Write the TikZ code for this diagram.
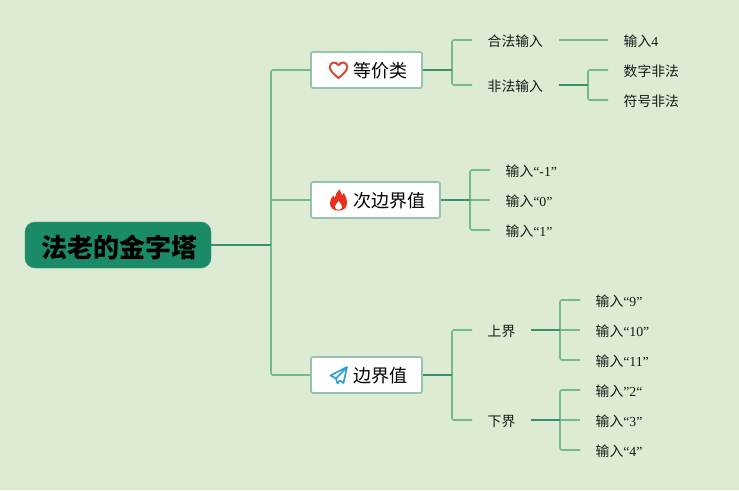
\documentclass[tikz,border=0pt]{standalone}
\usepackage{fontspec}
\setmainfont{Liberation Serif}
\newfontfamily\cjk{Noto Sans CJK SC}
\definecolor{bgc}{RGB}{220,235,210}
\definecolor{rootc}{RGB}{27,138,104}
\definecolor{darkl}{RGB}{55,145,110}
\definecolor{lightl}{RGB}{115,185,145}
\definecolor{boxl}{RGB}{150,195,175}
\definecolor{heartc}{RGB}{214,72,58}
\definecolor{flamec}{RGB}{232,48,28}
\definecolor{planec}{RGB}{48,160,215}
\tikzset{
 rootbox/.style={draw=rootc!90!white,fill=rootc,rounded corners=10pt,minimum width=186pt,minimum height=46pt,inner sep=0pt,text height=27pt,text depth=2pt,font=\cjk\bfseries\fontsize{26}{26}\selectfont},
 branchbox/.style={draw=boxl,line width=1.7pt,fill=white,rounded corners=2pt,minimum height=36pt,inner sep=0pt},
 btext/.style={font=\cjk\fontsize{18}{20}\selectfont,inner sep=0pt,anchor=west},
 leaf/.style={font=\fontsize{13.8}{16}\selectfont,inner ysep=0pt,inner xsep=15.5pt,text height=13pt,text depth=1pt,anchor=west,text=black!90},
 dk/.style={draw=darkl,line width=1.6pt},
 lt/.style={draw=lightl,line width=1.6pt,rounded corners=2pt},
}
\newcommand{\zh}[1]{{\cjk #1}}
\begin{document}
\begin{tikzpicture}[x=1pt,y=-1pt]
\useasboundingbox[fill=bgc] (0,0) rectangle (739,490);
% nodes
\node[rootbox] (root) at (118,245) {\hspace*{2pt}法老的金字塔};
\node[branchbox,minimum width=111pt] (b1) at (366.5,70) {};
\node[branchbox,minimum width=129pt] (b2) at (375.5,200) {};
\node[branchbox,minimum width=111pt] (b3) at (366.5,375) {};
\node[btext] (t1) at (353,71) {等价类};
\node[btext] (t2) at (353,201) {次边界值};
\node[btext] (t3) at (353,376) {边界值};
\node[leaf] (a1) at (472,40) {\zh{合法输入}};
\node[leaf] (a2) at (472,85) {\zh{非法输入}};
\node[leaf] (a11) at (608,40) {\zh{输入}4};
\node[leaf] (a21) at (608,70) {\zh{数字非法}};
\node[leaf] (a22) at (608,100) {\zh{符号非法}};
\node[leaf] (c1) at (490,170) {\zh{输入}“-1”};
\node[leaf] (c2) at (490,200) {\zh{输入}“0”};
\node[leaf] (c3) at (490,230) {\zh{输入}“1”};
\node[leaf] (d1) at (472,330) {\zh{上界}};
\node[leaf] (d2) at (472,420) {\zh{下界}};
\node[leaf] (d11) at (580,300) {\zh{输入}“9”};
\node[leaf] (d12) at (580,330) {\zh{输入}“10”};
\node[leaf] (d13) at (580,360) {\zh{输入}“11”};
\node[leaf] (d21) at (580,390) {\zh{输入}”2“};
\node[leaf] (d22) at (580,420) {\zh{输入}“3”};
\node[leaf] (d23) at (580,450) {\zh{输入}“4”};
% junctions
\coordinate (jr) at (271,245);
\coordinate (j1) at (452,70);
\coordinate (j2) at (470,200);
\coordinate (j3) at (452,375);
\coordinate (ja) at (588,85);
\coordinate (jd1) at (560,330);
\coordinate (jd2) at (560,420);
% light connectors
\draw[lt] (b1.west) -| (jr) |- (b3.west);
\draw[lt] (jr |- b2.west) -- (b2.west);
\draw[lt] (a1.west) -| (j1) |- (a2.west);
\draw[lt] (a1.east) -- (a11.west);
\draw[lt] (a21.west) -| (ja) |- (a22.west);
\draw[lt] (c1.west) -| (j2) |- (c3.west);
\draw[lt] (j2) -- (c2.west);
\draw[lt] (d1.west) -| (j3) |- (d2.west);
\draw[lt] (d11.west) -| (jd1) |- (d13.west);
\draw[lt] (jd1) -- (d12.west);
\draw[lt] (d21.west) -| (jd2) |- (d23.west);
\draw[lt] (jd2) -- (d22.west);
% dark stubs
\draw[dk] (root.east) -- (jr);
\draw[dk] (b1.east) -- (j1);
\draw[dk] (b2.east) -- (j2);
\draw[dk] (b3.east) -- (j3);
\draw[dk] (a2.east) -- (ja);
\draw[dk] (d1.east) -- (jd1);
\draw[dk] (d2.east) -- (jd2);
% heart
\draw[draw=heartc,line width=2pt,line join=round]
 (338.5,78) .. controls (333,73.5) and (329.8,70.5) .. (329.8,67)
 .. controls (329.8,62) and (336,60.8) .. (338.5,65.3)
 .. controls (341,60.8) and (347.2,62) .. (347.2,67)
 .. controls (347.2,70.5) and (344,73.5) .. (338.5,78) -- cycle;
% flame
\fill[flamec]
 (339.5,189.3) .. controls (340.5,192) and (341.5,194) .. (342.5,195.5)
 .. controls (343,194.5) and (343.2,194) .. (343.5,193)
 .. controls (346,196) and (347,200) .. (347,203)
 .. controls (347,207.8) and (343.5,210.7) .. (338.5,210.7)
 .. controls (333.5,210.7) and (330,207.8) .. (330,203)
 .. controls (330,199.5) and (332,197.5) .. (333.2,195.5)
 .. controls (333.6,196.8) and (334,197.3) .. (334.8,198)
 .. controls (335.5,194.5) and (337,191.5) .. (339.5,189.3) -- cycle;
\fill[white]
 (338.5,201) .. controls (339.8,203) and (342,204.5) .. (342,206.7)
 .. controls (342,208.7) and (340.5,209.8) .. (338.5,209.8)
 .. controls (336.5,209.8) and (335,208.7) .. (335,206.7)
 .. controls (335,204.5) and (337.5,203) .. (338.5,201) -- cycle;
% paper plane
\draw[draw=planec,line width=1.7pt,line join=round]
 (347,367) -- (330.5,375.5) -- (336,378.5) -- (337.5,383.5) -- (340,380.5) -- (343.5,383) -- cycle
 (347,367) -- (336,378.5);
\end{tikzpicture}
\end{document}
